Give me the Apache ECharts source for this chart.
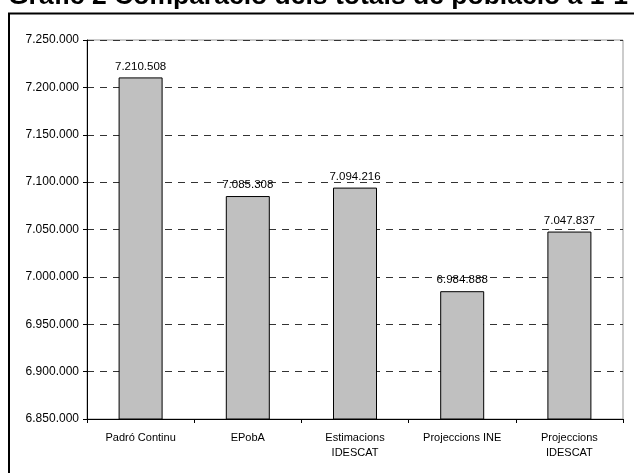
<!DOCTYPE html>
<html><head><meta charset="utf-8">
<script src="https://cdn.jsdelivr.net/npm/echarts@6/dist/echarts.min.js"></script>
<style>html,body{margin:0;padding:0;background:#fff;}#c{width:634px;height:473px;}</style>
</head><body><div id="c"></div>
<script>
const titleText = 'Gràfic 2 Comparació dels totals de població a 1-1-2005';
const categories = ['Padró Continu', 'EPobA', 'Estimacions\nIDESCAT', 'Projeccions INE', 'Projeccions\nIDESCAT'];
const values = [7210508, 7085308, 7094216, 6984888, 7047837];
const yMin = 6850000, yMax = 7250000, yStep = 50000;

function fmt(v){ return String(Math.round(v)).replace(/\B(?=(\d{3})+(?!\d))/g, '.'); }

const chart = echarts.init(document.getElementById('c'), null, {renderer:'canvas'});
chart.setOption({
  animation:false,
  backgroundColor:'#fff',
  title:{text:titleText, left:8, top:-17, padding:0,
    textStyle:{fontFamily:'Arial, "Liberation Sans"', fontWeight:'bold', fontSize:26.5, color:'#000'}},
  graphic:[{type:'rect', shape:{x:9, y:13.5, width:700, height:500}, style:{fill:null, stroke:'#000', lineWidth:2}, z:-1}],
  grid:{left:87, right:11, top:40, bottom:54, show:true, borderColor:'#999', borderWidth:1, backgroundColor:'#fff'},
  xAxis:{type:'category', data:categories, boundaryGap:true,
    axisLine:{lineStyle:{color:'#000', width:1}},
    axisTick:{show:true, length:4, alignWithLabel:false, lineStyle:{color:'#000'}},
    axisLabel:{fontFamily:'Arial, "Liberation Sans"', fontSize:11, color:'#000', margin:11, lineHeight:15, interval:0}},
  yAxis:{type:'value', min:yMin, max:yMax, interval:yStep,
    axisLine:{show:true, lineStyle:{color:'#000', width:1}},
    axisTick:{show:true, length:4, lineStyle:{color:'#000'}},
    axisLabel:{fontFamily:'Arial, "Liberation Sans"', fontSize:12, color:'#000', margin:8, formatter:fmt},
    splitLine:{show:true, lineStyle:{color:'#333', type:[7,6], width:1}}},
  series:[{type:'bar', data:values, barWidth:44,
    itemStyle:{color:'#c0c0c0', borderColor:'#000', borderWidth:1},
    label:{show:true, position:'top', distance:5, formatter:p=>fmt(p.value),
      fontFamily:'Arial, "Liberation Sans"', fontSize:11.5, color:'#000'}}]
});
</script></body></html>
